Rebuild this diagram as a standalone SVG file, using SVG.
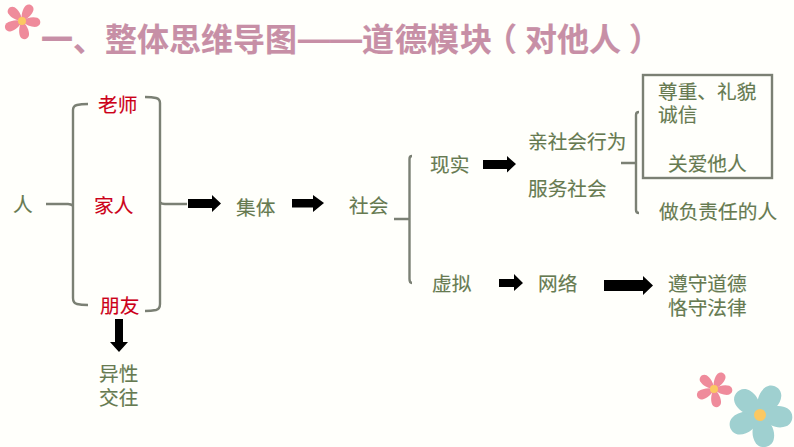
<svg xmlns="http://www.w3.org/2000/svg" width="794" height="447" viewBox="0 0 794 447">
<style>
text{font-family:"Noto Sans CJK SC","Noto Sans",sans-serif;font-size:19.7px;stroke:currentColor;stroke-width:.15px}
.g{fill:#667a50;color:#667a50}
.r{fill:#cc0018;color:#cc0018}
.t{fill:#c78fa6;color:#c78fa6;font-size:32px;font-weight:700}
.d{font-family:"Liberation Sans",sans-serif}
.b{fill:none;stroke:#7b8074;stroke-width:2.4}
.a{fill:#000}
.pp{fill:#ef8b9b}
.pb{fill:#9fd0d0}
.c{fill:#fbc862}
</style>
<defs>
<path id="pt" d="M0 0C4 -6 11 -7 15 -5C19 -3 19 3 15 5C11 7 4 6 0 0Z"/>
<path id="pn" d="M0 0C4 -4 11 -5.500 15 -4.500C19.500 -3 19.500 3 15 4.500C11 5.500 4 4 0 0Z"/>
<g id="fl">
<use href="#pt" transform="rotate(-60)"/>
<use href="#pt" transform="rotate(5)"/>
<use href="#pt" transform="rotate(80)"/>
<use href="#pt" transform="rotate(155)"/>
<use href="#pt" transform="rotate(225)"/>
</g>
<g id="fn">
<use href="#pn" transform="rotate(-60)"/>
<use href="#pn" transform="rotate(5)"/>
<use href="#pn" transform="rotate(80)"/>
<use href="#pn" transform="rotate(155)"/>
<use href="#pn" transform="rotate(225)"/>
</g>
</defs>
<rect width="794" height="447" fill="#fffffb"/>
<g id="flower-top"><use href="#fn" class="pp" transform="translate(22 21)"/><circle class="c" cx="22" cy="21" r="4"/></g>
<g id="flower-pink"><use href="#fn" class="pp" transform="translate(714 389)"/><circle class="c" cx="714" cy="389" r="4"/></g>
<g id="flower-blue"><use href="#fl" class="pb" transform="translate(760 415) scale(1.8)"/><circle class="c" cx="760" cy="415" r="6"/></g>
<g id="title"><text class="t" y="51"><tspan x="41 73 105 137 169 201 233 265">一、整体思维导图</tspan><tspan class="d" x="298 330" y="50">——</tspan><tspan x="362 395 427 460 485 525 557 589 629" y="51">道德模块（对他人）</tspan></text></g>
<g id="connectors">
<path class="b" d="M46 204H68Q71 204 73 206V202M88 104Q81 104 77 105Q73 106 73 110V298Q73 303 77 304Q81 305 88 305"/>
<path class="b" d="M145 97Q152 97 156 98Q160 99 160 103V304Q160 309 156 310Q151 311 145 311M160 202Q161 204 165 204H187"/>
<path class="b" d="M394 219H409M412 156Q409.500 156 409.500 159V279Q409.500 283 412 283"/>
<path class="b" d="M621 163H636M639 112Q636 112 636 115V210Q636 213 639 213"/>
<path class="a" d="M188 199H212V195L221 203.500L212 212V208H188Z"/>
<path class="a" d="M292 199H313V195L324 203L313 212V207.500H292Z"/>
<path class="a" d="M115 319H123V342H128L119 352L110 342H115Z"/>
<path class="a" d="M483 160H507V156L516 164L507 172.500V169H483Z"/>
<path class="a" d="M499 279H514V274L523 283L514 291V287H499Z"/>
<path class="a" d="M604 280H643V276L653 285.500L643 295V291H604Z"/>
</g>
<g id="node-ren"><text class="g" x="13" y="212">人</text></g>
<g id="node-laoshi"><text class="r" x="98" y="112">老师</text></g>
<g id="node-jiaren"><text class="r" x="94" y="213">家人</text></g>
<g id="node-pengyou"><text class="r" x="100" y="313">朋友</text></g>
<g id="node-yixing"><text class="g" x="99" y="381">异性</text><text class="g" x="99" y="405">交往</text></g>
<g id="node-jiti"><text class="g" x="236" y="215">集体</text></g>
<g id="node-shehui"><text class="g" x="349" y="213">社会</text></g>
<g id="node-xianshi"><text class="g" x="430" y="172">现实</text></g>
<g id="node-xuni"><text class="g" x="432" y="291">虚拟</text></g>
<g id="node-qinshehui"><text class="g" x="528" y="149">亲社会行为</text><text class="g" x="528" y="196">服务社会</text></g>
<g id="node-box"><rect x="643" y="75" width="129" height="103" fill="none" stroke="#7b8074" stroke-width="2.4"/><text class="g" x="658" y="99">尊重、礼貌</text><text class="g" x="658" y="122">诚信</text><text class="g" x="668" y="171">关爱他人</text></g>
<g id="node-zeren"><text class="g" x="659" y="219">做负责任的人</text></g>
<g id="node-wangluo"><text class="g" x="538" y="291">网络</text></g>
<g id="node-zunshou"><text class="g" x="668" y="291">遵守道德</text><text class="g" x="668" y="315">恪守法律</text></g>
</svg>
